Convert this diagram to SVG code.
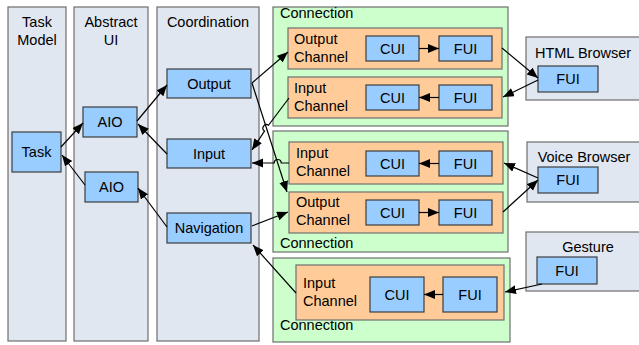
<svg xmlns="http://www.w3.org/2000/svg" width="639" height="345" viewBox="0 0 639 345">
<defs>
<marker id="ah" markerUnits="userSpaceOnUse" markerWidth="12" markerHeight="10" refX="11" refY="4.5" orient="auto">
<path d="M0,0 L11,4.5 L0,9 z" fill="#000"/>
</marker>
<style>
.col{fill:#E1E7F1;stroke:#6E6E6E;stroke-width:1.2}
.grp{fill:#CCFFCC;stroke:#6E6E6E;stroke-width:1.2}
.ch{fill:#FFCC99;stroke:#6E6E6E;stroke-width:1.2}
.br{fill:#E1E7F1;stroke:#6E6E6E;stroke-width:1.2}
.n{fill:#99CCFF;stroke:#3C3C3C;stroke-width:1.2}
text{font-family:"Liberation Sans",Arial,sans-serif;font-size:14.5px;fill:#000}
.c{text-anchor:middle}
.e{fill:none;stroke:#000;stroke-width:1.2;marker-end:url(#ah)}
</style>
</defs>
<g id="col-task"><rect class="col" x="8" y="7" width="58" height="334"/><text class="c" x="37" y="27">Task</text><text class="c" x="37" y="45">Model</text></g>
<g id="col-aui"><rect class="col" x="74" y="7" width="74" height="334"/><text class="c" x="111" y="27">Abstract</text><text class="c" x="111" y="45">UI</text></g>
<g id="col-coord"><rect class="col" x="157" y="7" width="102" height="334"/><text class="c" x="208" y="27">Coordination</text></g>

<g id="conn1"><rect class="grp" x="273" y="7" width="235" height="119"/><text x="280" y="18">Connection</text></g>
<g id="conn2"><rect class="grp" x="273" y="131" width="235" height="121"/><text x="280" y="248">Connection</text></g>
<g id="conn3"><rect class="grp" x="273" y="258" width="237" height="84"/><text x="280" y="330">Connection</text></g>

<g id="oc1"><rect class="ch" x="288" y="28" width="214" height="41"/><text x="294" y="43.5">Output</text><text x="294" y="62">Channel</text></g>
<g id="ic1"><rect class="ch" x="288" y="77" width="214" height="41"/><text x="294" y="93">Input</text><text x="294" y="111">Channel</text></g>
<g id="ic2"><rect class="ch" x="289" y="142" width="214" height="42"/><text x="296" y="158">Input</text><text x="296" y="176">Channel</text></g>
<g id="oc2"><rect class="ch" x="289" y="192" width="214" height="41"/><text x="296" y="207">Output</text><text x="296" y="225">Channel</text></g>
<g id="ic3"><rect class="ch" x="296" y="265" width="208" height="55"/><text x="303" y="288">Input</text><text x="303" y="306">Channel</text></g>

<g id="html"><rect class="br" x="526" y="37" width="120" height="63"/><text class="c" x="583" y="58">HTML Browser</text></g>
<g id="voice"><rect class="br" x="527" y="142" width="120" height="60"/><text class="c" x="584" y="162">Voice Browser</text></g>
<g id="gesture"><rect class="br" x="526" y="232" width="120" height="59"/><text class="c" x="588" y="252">Gesture</text></g>

<g id="task"><rect class="n" x="12" y="132" width="49" height="40"/><text class="c" x="36.5" y="157">Task</text></g>
<g id="aio1"><rect class="n" x="83" y="107" width="54" height="30"/><text class="c" x="110" y="127">AIO</text></g>
<g id="aio2"><rect class="n" x="85" y="172" width="53" height="30"/><text class="c" x="111.5" y="192">AIO</text></g>
<g id="output"><rect class="n" x="167" y="69" width="84" height="29"/><text class="c" x="209" y="88.5">Output</text></g>
<g id="input"><rect class="n" x="167" y="139" width="84" height="29"/><text class="c" x="209" y="158.5">Input</text></g>
<g id="navigation"><rect class="n" x="167" y="213" width="84" height="30"/><text class="c" x="209" y="233">Navigation</text></g>

<g id="cui1"><rect class="n" x="366" y="36" width="53" height="25"/><text class="c" x="392.5" y="53.5">CUI</text></g>
<g id="fui1"><rect class="n" x="439" y="36" width="53" height="25"/><text class="c" x="465.5" y="53.5">FUI</text></g>
<g id="cui2"><rect class="n" x="366" y="85" width="53" height="25"/><text class="c" x="392.5" y="102.5">CUI</text></g>
<g id="fui2"><rect class="n" x="439" y="85" width="53" height="25"/><text class="c" x="465.5" y="102.5">FUI</text></g>
<g id="cui3"><rect class="n" x="366" y="151" width="53" height="25"/><text class="c" x="392.5" y="168.5">CUI</text></g>
<g id="fui3"><rect class="n" x="439" y="151" width="53" height="25"/><text class="c" x="465.5" y="168.5">FUI</text></g>
<g id="cui4"><rect class="n" x="366" y="200" width="53" height="25"/><text class="c" x="392.5" y="217.5">CUI</text></g>
<g id="fui4"><rect class="n" x="439" y="200" width="53" height="25"/><text class="c" x="465.5" y="217.5">FUI</text></g>
<g id="cui5"><rect class="n" x="370" y="277" width="54" height="35"/><text class="c" x="397" y="299.5">CUI</text></g>
<g id="fui5"><rect class="n" x="443" y="277" width="54" height="35"/><text class="c" x="470" y="299.5">FUI</text></g>
<g id="fui-html"><rect class="n" x="538" y="66" width="60" height="26"/><text class="c" x="568" y="84">FUI</text></g>
<g id="fui-voice"><rect class="n" x="538" y="167" width="60" height="26"/><text class="c" x="568" y="185">FUI</text></g>
<g id="fui-gesture"><rect class="n" x="537" y="257" width="60" height="27"/><text class="c" x="567" y="275.5">FUI</text></g>

<g id="connectors">
<path class="e" d="M61,147 L83,123"/>
<path class="e" d="M85,185 L62,155"/>
<path class="e" d="M137,121 L167,85"/>
<path class="e" d="M167,154 L138,124"/>
<path class="e" d="M167,227 L138,188"/>
<path class="e" d="M252,83 L288,52"/>
<path class="e" d="M252,83 L287,192"/>
<path class="e" d="M289,98 L268.5,125.3 A3.5,3.5 0 0 0 264.5,131.1 L252,150"/>
<path class="e" d="M289,163 L281.2,163 A3.5,3.5 0 0 0 274.2,163 L252,163"/>
<path class="e" d="M252,226 L288,212"/>
<path class="e" d="M296,293 L253,245"/>
<path class="e" d="M419,48.5 L439,48.5"/>
<path class="e" d="M439,97.5 L419,97.5"/>
<path class="e" d="M439,163.5 L419,163.5"/>
<path class="e" d="M419,212.5 L439,212.5"/>
<path class="e" d="M443,294.5 L424,294.5"/>
<path class="e" d="M502,48 L538,78"/>
<path class="e" d="M538,80 L503,97"/>
<path class="e" d="M538,178 L504,163"/>
<path class="e" d="M503,212 L538,180"/>
<path class="e" d="M542,284 L505,292"/>
</g>
</svg>
